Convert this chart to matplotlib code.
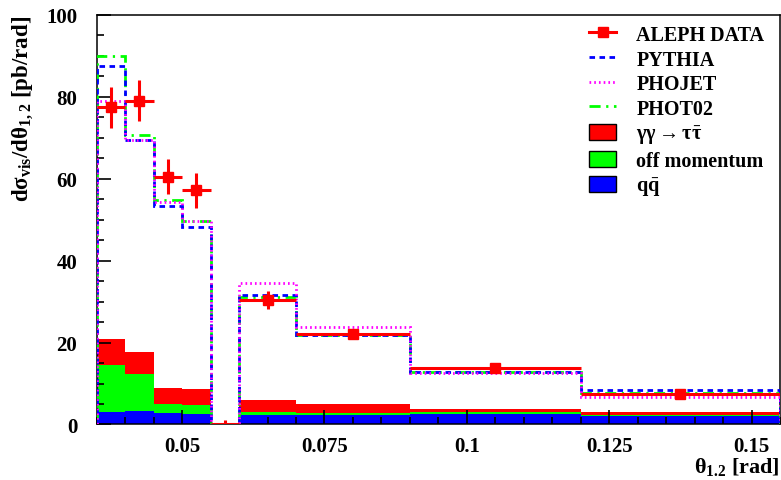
import numpy as np
import matplotlib
matplotlib.use("Agg")
import matplotlib.pyplot as plt
from matplotlib.lines import Line2D
from matplotlib.patches import Patch
from matplotlib.ticker import MultipleLocator, FuncFormatter

# Bin edges of the theta_1,2 distribution (rad)
edges = [0.035, 0.040, 0.045, 0.050, 0.055, 0.060, 0.070, 0.090, 0.120, 0.155]

# Measured visible cross section and its errors (pb/rad)
data_y = [77.4, 79.0, 60.5, 57.1, 0.0, 30.4, 22.2, 13.9, 7.4]
data_err = [5.0, 5.0, 4.3, 4.2, 1.0, 2.1, 0.7, 0.6, 0.5]

# Monte Carlo generator predictions (pb/rad)
pythia = [87.4, 69.3, 53.4, 48.3, 0.0, 31.7, 21.8, 12.8, 8.3]
phojet = [79.0, 69.5, 54.2, 49.6, 0.0, 34.5, 23.7, 12.5, 6.6]
phot02 = [89.8, 70.7, 54.9, 49.7, 0.0, 31.0, 21.9, 12.9, 7.8]

# Background components, stacked bottom to top: qq, off momentum, tau pairs
bkg_qq = [3.1, 3.2, 2.7, 2.6, 0.0, 2.2, 2.3, 2.5, 2.1]
bkg_offmom = [11.3, 9.0, 2.3, 2.2, 0.0, 0.9, 0.4, 0.5, 0.3]
bkg_tautau = [6.5, 5.6, 3.9, 3.9, 0.0, 2.9, 2.3, 0.8, 0.7]

legend_labels = ["ALEPH DATA", "PYTHIA", "PHOJET", "PHOT02",
                 r"$\gamma\gamma \rightarrow \tau\bar{\tau}$",
                 "off momentum", r"$\mathrm{q\bar{q}}$"]

RED, GREEN, BLUE, MAGENTA = "#ff0000", "#00ff00", "#0000ff", "#ff00ff"

plt.rcParams["font.family"] = ["Liberation Serif", "DejaVu Serif"]
plt.rcParams["font.weight"] = "bold"
plt.rcParams["axes.labelweight"] = "bold"
plt.rcParams["mathtext.fontset"] = "custom"
plt.rcParams["mathtext.rm"] = "Liberation Serif:bold"
plt.rcParams["mathtext.it"] = "Liberation Serif:bold"
plt.rcParams["mathtext.bf"] = "Liberation Serif:bold"

fig = plt.figure(figsize=(7.81, 4.81), dpi=100)
ax = fig.add_axes([0.1238, 0.1154, 0.8749, 0.852])

e = np.array(edges)
centers = 0.5 * (e[:-1] + e[1:])
half = 0.5 * (e[1:] - e[:-1])

# stacked backgrounds
lvl0 = np.zeros(len(bkg_qq))
lvl1 = lvl0 + np.array(bkg_qq)
lvl2 = lvl1 + np.array(bkg_offmom)
lvl3 = lvl2 + np.array(bkg_tautau)
ax.stairs(lvl1, e, baseline=lvl0, fill=True, color=BLUE, lw=0, zorder=1)
ax.stairs(lvl2, e, baseline=lvl1, fill=True, color=GREEN, lw=0, zorder=1)
ax.stairs(lvl3, e, baseline=lvl2, fill=True, color=RED, lw=0, zorder=1)

# generator curves
pythia_ls = (0, (2.0, 1.6))
phojet_ls = (0, (0.6, 1.1))
phot02_ls = (0, (4.0, 2.0, 0.8, 2.0))
ax.stairs(phot02, e, baseline=0, color=GREEN, lw=2, ls=phot02_ls, zorder=3)
ax.stairs(pythia, e, baseline=0, color=BLUE, lw=2, ls=pythia_ls, zorder=3)
ax.stairs(phojet, e, baseline=0, color=MAGENTA, lw=2, ls=phojet_ls, zorder=3)

# data
ax.errorbar(centers, data_y, yerr=data_err, xerr=half, fmt="none",
            ecolor=RED, elinewidth=2.2, capsize=0, zorder=5)
dy = np.array(data_y)
nz = dy > 0
ax.plot(centers[nz], dy[nz], "s", color=RED, ms=7.5, zorder=6)

ax.set_xlim(0.035, 0.155)
ax.set_ylim(0, 100)
ax.xaxis.set_major_locator(MultipleLocator(0.025))
ax.xaxis.set_minor_locator(MultipleLocator(0.005))
ax.yaxis.set_major_locator(MultipleLocator(20))
ax.yaxis.set_minor_locator(MultipleLocator(5))
ax.xaxis.set_major_formatter(FuncFormatter(lambda v, _: f"{v:g}"))
ax.tick_params(which="both", direction="in", top=False, right=False, width=1.2)
ax.tick_params(which="major", length=10)
ax.tick_params(which="minor", length=5)
ax.tick_params(axis="x", which="major", pad=8, labelsize=15)
ax.tick_params(axis="y", which="major", pad=14, labelsize=15)
for sp in ax.spines.values():
    sp.set_linewidth(1.1)

ax.set_xlabel(r"$\theta_{1.2}$ [rad]", loc="right", fontsize=16)
ax.xaxis.set_label_coords(1.0, -0.075)
ax.set_ylabel(r"d$\sigma_{vis}$/d$\theta_{1,2}$ [pb/rad]", loc="top", fontsize=16.5)
ax.yaxis.set_label_coords(-0.09, 1.0)

handles = [
    Line2D([], [], color=RED, lw=2.2, marker="s", ms=7.5),
    Line2D([], [], color=BLUE, lw=2, ls=pythia_ls),
    Line2D([], [], color=MAGENTA, lw=2, ls=phojet_ls),
    Line2D([], [], color=GREEN, lw=2, ls=phot02_ls),
    Patch(facecolor=RED, edgecolor="black", lw=1),
    Patch(facecolor=GREEN, edgecolor="black", lw=1),
    Patch(facecolor=BLUE, edgecolor="black", lw=1),
]
ax.legend(handles, legend_labels, loc="upper left", bbox_to_anchor=(0.7205, 0.975),
          frameon=False, handlelength=1.35, handletextpad=1.0, labelspacing=0.23,
          borderaxespad=0, borderpad=0, handleheight=0.85, prop={"size": 14.5})

fig.savefig("out.png", dpi=100)
